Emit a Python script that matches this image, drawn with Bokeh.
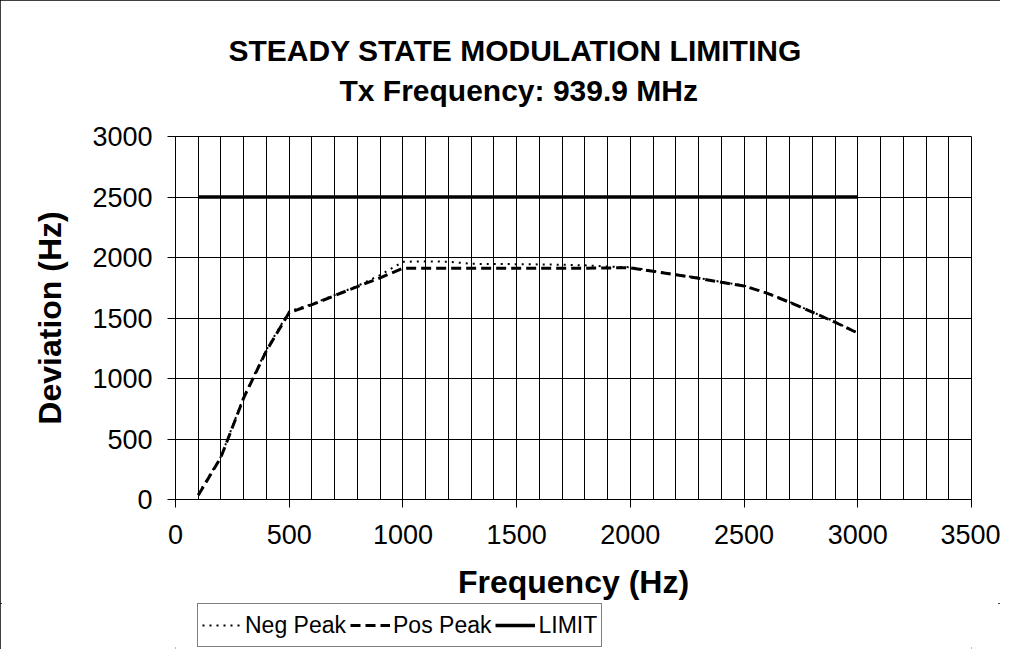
from bokeh.plotting import figure
from bokeh.models import Range1d, FixedTicker, Legend, LegendItem, Title
from bokeh.layouts import column
from bokeh.embed import file_html
from bokeh.resources import INLINE

# ---- data ----
freq = [100, 200, 300, 400, 500, 600, 700, 800, 900, 1000,
        1100, 1200, 1300, 1400, 1500, 1600, 1700, 1800, 1900, 2000,
        2100, 2200, 2300, 2400, 2500, 2600, 2700, 2800, 2900, 3000]
neg_peak = [45, 355, 850, 1240, 1555, 1615, 1690, 1765, 1855, 1965,
            1968, 1965, 1948, 1946, 1945, 1943, 1940, 1935, 1925, 1920,
            1889, 1859, 1831, 1798, 1768, 1708, 1633, 1550, 1468, 1377]
pos_peak = [35, 350, 840, 1230, 1545, 1610, 1685, 1760, 1832, 1912,
            1912, 1912, 1912, 1912, 1912, 1912, 1912, 1912, 1914, 1915,
            1886, 1857, 1828, 1795, 1765, 1706, 1630, 1548, 1465, 1375]
limit_freq = [100, 3000]
limit_dev = [2500, 2500]

x_ticks = [0, 500, 1000, 1500, 2000, 2500, 3000, 3500]
y_ticks = [0, 500, 1000, 1500, 2000, 2500, 3000]
x_grid = [0, 100, 200, 300, 400, 500, 600, 700, 800, 900, 1000, 1100, 1200,
          1300, 1400, 1500, 1600, 1700, 1800, 1900, 2000, 2100, 2200, 2300,
          2400, 2500, 2600, 2700, 2800, 2900, 3000, 3100, 3200, 3300, 3400, 3500]

series_names = ["Neg Peak", "Pos Peak", "LIMIT"]
title_1 = "STEADY STATE MODULATION LIMITING"
title_2 = "Tx Frequency: 939.9 MHz"
x_label = "Frequency (Hz)"
y_label = "Deviation (Hz)"

FONT = "Liberation Sans"
NEG_STYLE = dict(line_color="black", line_width=2, line_dash="2 5")
POS_STYLE = dict(line_color="black", line_width=3, line_dash="10 5")
LIM_STYLE = dict(line_color="black", line_width=3.5)

# ================= main chart =================
p = figure(frame_width=796, frame_height=363, output_backend="svg", toolbar_location=None,
           x_range=Range1d(0, 3500), y_range=Range1d(0, 3000),
           min_border_left=175, min_border_right=29,
           min_border_top=136, min_border_bottom=104,
           title_location=None)
p.background_fill_color = "white"
p.border_fill_color = "white"
p.outline_line_color = "black"
p.outline_line_width = 1

# titles (stacked upward from the plot frame)
spacer = Title(text=" ", text_font_size="1px", standoff=21)
t2 = Title(text=title_2, align="left", offset=164, vertical_align="bottom",
           standoff=11, text_font=FONT, text_font_size="30px",
           text_font_style="bold", text_color="black")
t1 = Title(text=title_1, align="left", offset=53, vertical_align="bottom",
           standoff=0, text_font=FONT, text_font_size="30px",
           text_font_style="bold", text_color="black")
p.add_layout(spacer, "above")
p.add_layout(t2, "above")
p.add_layout(t1, "above")

# axes
p.xaxis.ticker = FixedTicker(ticks=x_ticks)
p.yaxis.ticker = FixedTicker(ticks=y_ticks)
for ax in (p.xaxis[0], p.yaxis[0]):
    ax.major_tick_in = 0
    ax.major_tick_out = 8
    ax.minor_tick_in = 0
    ax.minor_tick_out = 0
    ax.axis_line_color = "black"
    ax.axis_line_width = 1
    ax.major_tick_line_color = "black"
    ax.major_tick_line_width = 1
    ax.major_label_text_font = FONT
    ax.major_label_text_font_size = "27px"
    ax.major_label_text_color = "black"
    ax.axis_label_text_font = FONT
    ax.axis_label_text_font_size = "32px"
    ax.axis_label_text_font_style = "bold"
    ax.axis_label_text_color = "black"
p.xaxis.axis_label = x_label
p.yaxis.axis_label = y_label
p.xaxis.major_label_standoff = 17
p.yaxis.major_label_standoff = 15
p.xaxis.axis_label_standoff = 17
p.yaxis.axis_label_standoff = 21

# grid
p.xgrid.ticker = FixedTicker(ticks=x_grid)
p.ygrid.ticker = FixedTicker(ticks=y_ticks)
for g in (p.xgrid[0], p.ygrid[0]):
    g.grid_line_color = "black"
    g.grid_line_width = 1
    g.grid_line_alpha = 1

# series
p.line(freq, neg_peak, **NEG_STYLE)
p.line(freq, pos_peak, **POS_STYLE)
p.line(limit_freq, limit_dev, **LIM_STYLE)

# ================= legend strip =================
leg = figure(width=1000, height=46, output_backend="svg", toolbar_location=None,
             x_range=Range1d(0, 1), y_range=Range1d(0, 1),
             x_axis_type=None, y_axis_type=None,
             min_border_left=175, min_border_right=29,
             min_border_top=0, min_border_bottom=0,
             title_location=None)
leg.outline_line_color = None
leg.background_fill_color = "white"
leg.border_fill_color = "white"
# same series, out of this strip's view: they only supply the legend keys
l_neg = leg.line(freq, neg_peak, **NEG_STYLE)
l_pos = leg.line(freq, pos_peak, **POS_STYLE)
l_lim = leg.line(limit_freq, limit_dev, **LIM_STYLE)

legend = Legend(items=[LegendItem(label=series_names[0], renderers=[l_neg]),
                       LegendItem(label=series_names[1], renderers=[l_pos]),
                       LegendItem(label=series_names[2], renderers=[l_lim])],
                orientation="horizontal", location=(22, 2))
legend.border_line_color = "black"
legend.border_line_width = 1
legend.background_fill_color = "white"
legend.background_fill_alpha = 1
legend.label_text_font = FONT
legend.label_text_font_size = "23px"
legend.label_text_color = "black"
legend.glyph_width = 40
legend.glyph_height = 34
legend.label_standoff = 3
legend.spacing = 4
legend.padding = 4
legend.margin = 0
leg.add_layout(legend)

page = column(p, leg, spacing=0)
page.styles = {"outline": "2px solid black", "outline-offset": "-2px"}

open("out.html", "w").write(file_html(page, INLINE))
